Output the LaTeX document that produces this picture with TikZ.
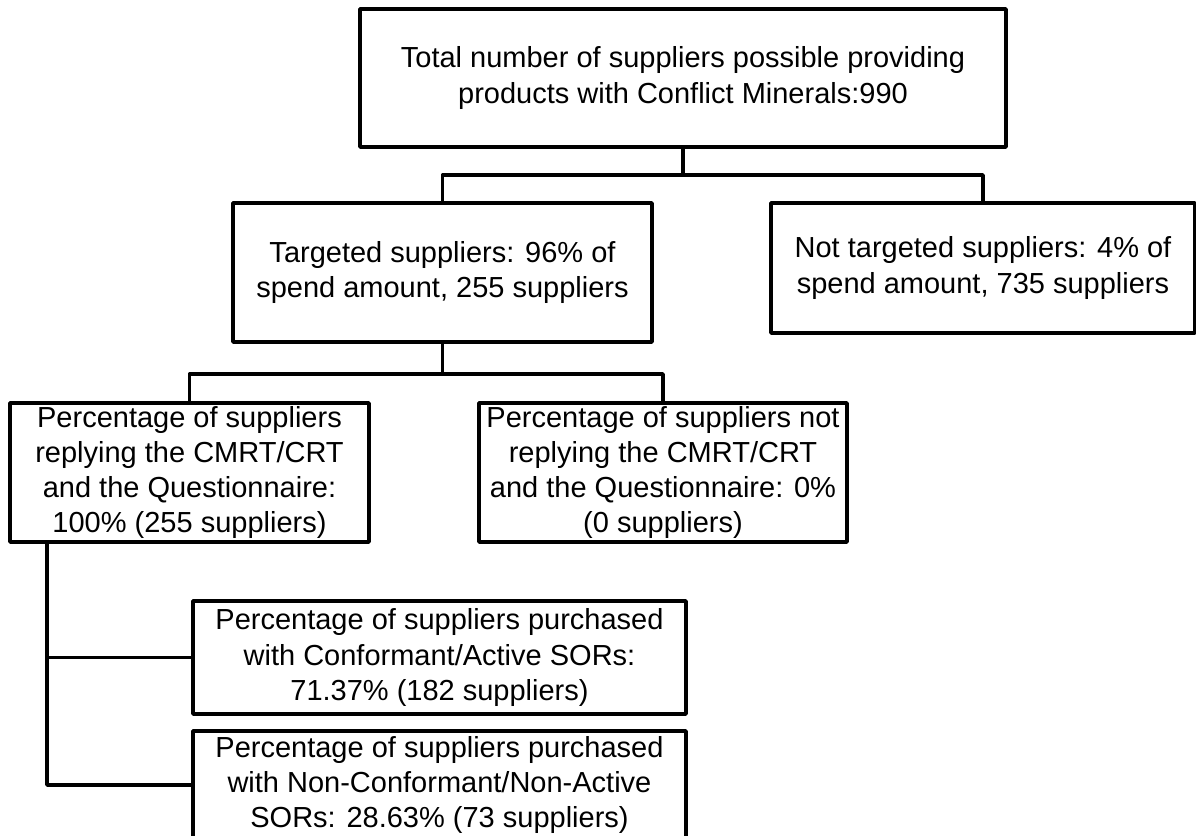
\documentclass[tikz,border=0pt]{standalone}
\usepackage{fontspec}
\setmainfont{Liberation Sans}
\usepackage{tikz}

\begin{document}
\begin{tikzpicture}[line cap=round,line join=round,x=0.5pt,y=-0.5pt,
	box/.style={draw,line width=1.8pt,align=center,inner sep=0pt,
		font=\fontsize{14.5}{17.6}\selectfont},
	link/.style={line width=1.8pt}]
	\useasboundingbox (0,0) rectangle (1196,836);
	% first level
	\node[box,minimum width=323pt,minimum height=69pt] (total) at (683,78)
		{Total number of suppliers possible providing\\products with Conflict Minerals:990};
	\node[box,minimum width=209.5pt,minimum height=69.5pt] (targ) at (442.5,272.5)
		{Targeted suppliers: 96\% of\\spend amount, 255 suppliers};
	\node[box,minimum width=212pt,minimum height=65pt] (nottarg) at (983,268)
		{Not targeted suppliers: 4\% of\\spend amount, 735 suppliers};
	% replies
	\node[box,minimum width=179.5pt,minimum height=69.5pt] (reply) at (189.5,472.5)
		{Percentage of suppliers\\replying the CMRT/CRT\\and the Questionnaire:\\100\% (255 suppliers)};
	\node[box,minimum width=184pt,minimum height=69.5pt] (noreply) at (663,472.5)
		{Percentage of suppliers not\\replying the CMRT/CRT\\and the Questionnaire: 0\%\\(0 suppliers)};
	% SORs
	\node[box,minimum width=246.5pt,minimum height=56.5pt] (conf) at (439.5,657.5)
		{Percentage of suppliers purchased\\with Conformant/Active SORs:\\71.37\% (182 suppliers)};
	\node[box,minimum width=246.5pt,minimum height=54pt] (nonconf) at (439.5,785)
		{Percentage of suppliers purchased\\with Non-Conformant/Non-Active\\SORs: 28.63\% (73 suppliers)};
	\coordinate (j1) at (683,175);
	\coordinate (j2) at (442.5,374);
	\coordinate (j3) at (47,542);
	\draw[link] (total.south) -- (j1);
	\draw[link] (j1) -| (targ.north);
	\draw[link] (j1) -| (nottarg.north);
	\draw[link] (targ.south) -- (j2);
	\draw[link] (j2) -| (reply.north);
	\draw[link] (j2) -| (noreply.north);
	\draw[link] (j3) |- (conf.west);
	\draw[link] (j3) |- (nonconf.west);
\end{tikzpicture}
\end{document}
